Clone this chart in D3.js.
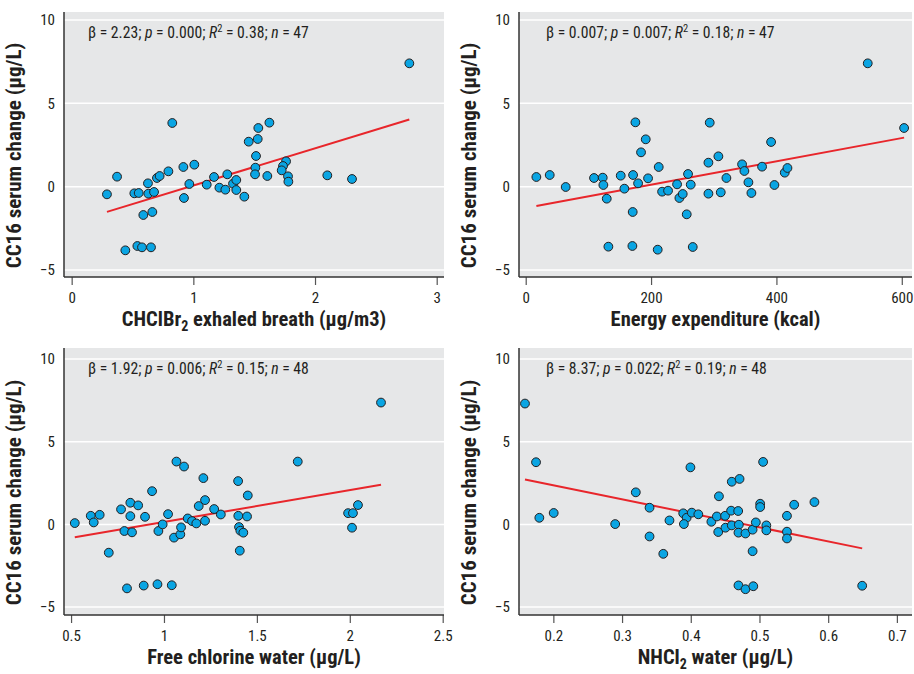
<!DOCTYPE html>
<html>
<head>
<meta charset="utf-8">
<script src="https://cdn.jsdelivr.net/npm/d3@7"></script>
<style>
  body { margin: 0; background: #fff; }
  svg { display: block; }
  text { font-family: "Liberation Sans Narrow", "Arial Narrow", "Roboto Condensed", sans-serif; fill: #231f20; }
</style>
</head>
<body>
<svg id="chart" width="914" height="674"></svg>
<script>
// ---------- DATA ----------
const yTicks = [-5, 0, 5, 10];

// Panel 1: CHClBr2 exhaled breath
const p1X = [2.775,0.827,1.625,1.534,1.455,1.529,1.515,1.51,1.507,1.608,1.762,1.737,1.726,1.778,1.781,2.101,2.304,0.29,0.373,0.441,0.54,0.578,0.652,0.589,0.663,0.515,0.551,0.63,0.677,0.627,0.701,0.723,0.795,0.918,1.008,0.923,0.967,1.11,1.17,1.214,1.263,1.279,1.326,1.353,1.353,1.419];
const p1Y = [7.4,3.82,3.84,3.52,2.7,2.86,1.84,1.14,0.74,0.64,1.52,1.24,0.98,0.62,0.3,0.68,0.46,-0.46,0.6,-3.82,-3.56,-3.64,-3.64,-1.7,-1.52,-0.4,-0.38,-0.42,-0.32,0.2,0.52,0.64,0.92,1.18,1.32,-0.68,0.16,0.12,0.58,-0.06,-0.18,0.74,0.18,0.4,-0.2,-0.6];
const p1XTicks = [0, 1, 2, 3];

// Panel 2: Energy expenditure
const p2X = [545.7,603.7,17,38.3,63.8,109,122.9,123.9,129.3,131.9,151.6,157.4,171.3,179.3,170.7,170.2,175,191.5,184,195.2,212.2,217.6,227.1,210.6,241.5,245.2,250.5,259,263.3,256.9,266.5,291.5,291.5,293.6,307.4,311.2,320.2,345.2,348.9,355.3,360.1,377.1,391.5,396.8,413.3,417.6];
const p2Y = [7.4,3.52,0.58,0.7,-0.02,0.52,0.54,0.1,-0.72,-3.6,0.66,-0.12,0.7,0.2,-1.52,-3.56,3.86,2.84,2.06,0.5,1.18,-0.3,-0.24,-3.78,0.14,-0.68,-0.44,0.76,0.12,-1.66,-3.62,1.44,-0.42,3.84,1.82,-0.34,0.52,1.34,0.94,0.26,-0.38,1.2,2.68,0.1,0.84,1.12];
const p2XTicks = [0, 200, 400, 600];

// Panel 3: Free chlorine water
const p3X = [2.168,0.52,0.606,0.622,0.654,0.703,0.769,0.787,0.801,0.819,0.819,0.828,0.861,0.891,0.898,0.936,0.965,0.97,0.993,1.022,1.042,1.054,1.067,1.088,1.092,1.108,1.128,1.151,1.174,1.187,1.212,1.221,1.221,1.27,1.306,1.399,1.4,1.404,1.411,1.427,1.408,1.447,1.451,1.72,1.991,2.017,2.012,2.044];
const p3Y = [7.37,0.08,0.52,0.12,0.58,-1.71,0.91,-0.4,-3.87,1.31,0.5,-0.48,1.15,-3.7,0.46,2.01,-3.62,-0.4,0.0,0.62,-3.68,-0.8,3.8,-0.6,-0.18,3.5,0.36,0.2,0.06,1.11,2.8,1.47,0.22,0.93,0.6,2.62,0.52,-0.16,-0.38,-0.5,-1.59,0.48,1.75,3.8,0.68,0.68,-0.2,1.17];
const p3XTicks = [0.5, 1, 1.5, 2, 2.5];

// Panel 4: NHCl2 water
const p4X = [0.1587,0.1748,0.1796,0.2005,0.29,0.32,0.34,0.34,0.36,0.369,0.389,0.394,0.39,0.3995,0.4015,0.411,0.43,0.438,0.441,0.44,0.45,0.4505,0.4587,0.4597,0.4597,0.469,0.47,0.471,0.4694,0.4694,0.4796,0.4796,0.49,0.49,0.491,0.4947,0.501,0.501,0.5053,0.51,0.51,0.54,0.54,0.54,0.5505,0.58,0.6495];
const p4Y = [7.31,3.76,0.4,0.69,0.02,1.94,1.01,-0.73,-1.78,0.24,0.67,0.4,0.02,3.45,0.71,0.61,0.16,0.48,1.7,-0.46,0.52,-0.2,0.83,2.58,-0.06,0.81,-0.02,2.75,-0.5,-3.69,-0.55,-3.92,-0.32,-1.62,-3.74,0.12,1.25,1.05,3.78,-0.06,-0.36,0.52,-0.44,-0.85,1.19,1.35,-3.71];
const p4XTicks = [0.2, 0.3, 0.4, 0.5, 0.6, 0.7];

// regression lines (intercept, slope) as drawn
const regIntercepts = [-2.16, -1.283, -1.77, 4.07];
const regSlopes = [2.23, 0.007, 1.92, -8.5];

// annotation stats
const statBeta = ["2.23", "0.007", "1.92", "8.37"];
const statP = ["0.000", "0.007", "0.006", "0.022"];
const statR2 = ["0.38", "0.18", "0.15", "0.19"];
const statN = ["47", "47", "48", "48"];

const yTitle = "CC16 serum change (μg/L)";

// ---------- LAYOUT ----------
const panels = [
  { xs: p1X, ys: p1Y, ticks: p1XTicks, xDom: [-0.063, 3.06], yDom: [-5.42, 10.48],
    box: { l: 64, r: 444, t: 12, b: 277 }, fmt: d3.format("d"),
    title: [["CHClBr", 0], ["2", 1], [" exhaled breath (μg/m3)", 0]] },
  { xs: p2X, ys: p2Y, ticks: p2XTicks, xDom: [-10.7, 616.3], yDom: [-5.42, 10.48],
    box: { l: 519, r: 912, t: 12, b: 277 }, fmt: d3.format("d"),
    title: [["Energy expenditure (kcal)", 0]] },
  { xs: p3X, ys: p3Y, ticks: p3XTicks, xDom: [0.462, 2.507], yDom: [-5.48, 10.67],
    box: { l: 64, r: 444, t: 348, b: 615 }, fmt: d => String(d),
    title: [["Free chlorine water (μg/L)", 0]] },
  { xs: p4X, ys: p4Y, ticks: p4XTicks, xDom: [0.150, 0.722], yDom: [-5.48, 10.67],
    box: { l: 519, r: 912, t: 348, b: 615 }, fmt: d3.format(".1f"),
    title: [["NHCl", 0], ["2", 1], [" water (μg/L)", 0]] }
];

const svg = d3.select("#chart");

panels.forEach((p, i) => {
  const b = p.box;
  const x = d3.scaleLinear().domain(p.xDom).range([b.l, b.r]);
  const y = d3.scaleLinear().domain(p.yDom).range([b.b, b.t]);
  const g = svg.append("g");

  // background
  g.append("rect").attr("x", b.l).attr("y", b.t).attr("width", b.r - b.l).attr("height", b.b - b.t)
    .attr("fill", "#e6e7e8");

  // gridlines
  g.selectAll(".grid").data(yTicks).enter().append("line")
    .attr("x1", b.l).attr("x2", b.r)
    .attr("y1", d => y(d)).attr("y2", d => y(d))
    .attr("stroke", "#ffffff").attr("stroke-width", 1.5);

  // y axis
  const yAxis = d3.axisLeft(y).tickValues(yTicks).tickSize(0).tickPadding(9)
    .tickFormat(d => d < 0 ? "\u2212" + Math.abs(d) : String(d));
  const ya = g.append("g").attr("transform", `translate(${b.l},0)`).call(yAxis);
  ya.select(".domain").remove();
  ya.selectAll("text").attr("font-size", 15).style("font-family", null).attr("fill", "#231f20");
  g.append("line").attr("x1", b.l).attr("x2", b.l).attr("y1", b.t).attr("y2", b.b)
    .attr("stroke", "#333").attr("stroke-width", 1.5);

  // x axis
  const xAxis = d3.axisBottom(x).tickValues(p.ticks).tickSize(8).tickPadding(7).tickFormat(p.fmt);
  const xa = g.append("g").attr("transform", `translate(0,${b.b})`).call(xAxis);
  xa.select(".domain").remove();
  xa.selectAll(".tick line").attr("stroke", "#555").attr("stroke-width", 1.2);
  xa.selectAll("text").attr("font-size", 15).style("font-family", null).attr("fill", "#231f20");
  g.append("line").attr("x1", b.l).attr("x2", b.r).attr("y1", b.b).attr("y2", b.b)
    .attr("stroke", "#333").attr("stroke-width", 1.5);

  // regression line
  const xmin = d3.min(p.xs), xmax = d3.max(p.xs);
  const f = v => regIntercepts[i] + regSlopes[i] * v;
  g.append("line")
    .attr("x1", x(xmin)).attr("y1", y(f(xmin)))
    .attr("x2", x(xmax)).attr("y2", y(f(xmax)))
    .attr("stroke", "#e8262b").attr("stroke-width", 2);

  // points
  g.selectAll(".pt").data(p.xs.map((v, k) => [v, p.ys[k]])).enter().append("circle")
    .attr("cx", d => x(d[0])).attr("cy", d => y(d[1])).attr("r", 4.4)
    .attr("fill", "#0aa5e3").attr("stroke", "#231f20").attr("stroke-width", 1);

  // annotation
  const ann = g.append("text").attr("x", b.l + (i % 2 === 0 ? 24 : 27)).attr("y", b.t + 26)
    .attr("font-size", 15.7);
  ann.append("tspan").text("\u03b2 = " + statBeta[i] + "; ");
  ann.append("tspan").attr("font-style", "italic").text("p");
  ann.append("tspan").text(" = " + statP[i] + "; ");
  ann.append("tspan").attr("font-style", "italic").text("R");
  ann.append("tspan").attr("font-size", 10.5).attr("dy", -6).text("2");
  ann.append("tspan").attr("dy", 6).text(" = " + statR2[i] + "; ");
  ann.append("tspan").attr("font-style", "italic").text("n");
  ann.append("tspan").text(" = " + statN[i]);

  // x title
  const xt = g.append("text").attr("x", (b.l + b.r) / 2).attr("y", b.b + 54)
    .attr("text-anchor", "middle").attr("font-size", 20.5).attr("font-weight", "bold");
  p.title.forEach(([s, sub]) => {
    if (sub) {
      xt.append("tspan").attr("font-size", 14).attr("dy", 5).text(s);
    } else {
      xt.append("tspan").attr("dy", xt.selectAll("tspan").size() > 0 ? -5 : 0).text(s);
    }
  });

  // y title
  const cy = (b.t + b.b) / 2 + 11;
  g.append("text").attr("transform", `translate(${b.l - 43},${cy}) rotate(-90)`)
    .attr("text-anchor", "middle").attr("font-size", 21).attr("font-weight", "bold")
    .text(yTitle);
});
</script>
</body>
</html>
